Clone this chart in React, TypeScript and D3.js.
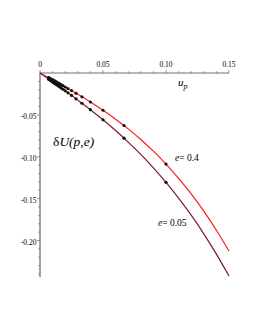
import * as d3 from "d3";
import React, { useEffect, useRef } from "react";

// curve samples (u_p, deltaU)
const uGrid = [0, 0.01, 0.02, 0.03, 0.04, 0.05, 0.06, 0.07, 0.08, 0.09, 0.1, 0.11, 0.12, 0.13, 0.14, 0.15];
const curveE04 = [0, -0.0083, -0.0167, -0.0254, -0.0346, -0.0445, -0.0551, -0.0667, -0.0794, -0.0933, -0.1087, -0.1257, -0.1444, -0.165, -0.1877, -0.2125];
const curveE005 = [0, -0.0106, -0.0213, -0.0324, -0.0438, -0.0559, -0.0687, -0.0825, -0.0972, -0.1132, -0.1305, -0.1493, -0.1698, -0.192, -0.2162, -0.2424];

// marked points (u_p = 1/p)
const dotU = [0.1, 0.0667, 0.05, 0.04, 0.0333, 0.0286, 0.025, 0.0222, 0.02, 0.0182, 0.0167, 0.0154, 0.0143, 0.0133, 0.0125, 0.0118, 0.0111, 0.0105, 0.01, 0.0091, 0.0083, 0.0077, 0.0071, 0.0067];
const dotE04 = [-0.1087, -0.0627, -0.0445, -0.0346, -0.0284, -0.0242, -0.021, -0.0186, -0.0167, -0.0151, -0.0139, -0.0128, -0.0118, -0.011, -0.0103, -0.0098, -0.0092, -0.0087, -0.0083, -0.0075, -0.0069, -0.0064, -0.0059, -0.0055];
const dotE005 = [-0.1305, -0.0778, -0.0559, -0.0438, -0.0361, -0.0308, -0.0268, -0.0237, -0.0213, -0.0194, -0.0178, -0.0164, -0.0152, -0.0141, -0.0133, -0.0125, -0.0118, -0.0111, -0.0106, -0.0096, -0.0088, -0.0081, -0.0075, -0.0071];

const xTicks = [0, 0.05, 0.1, 0.15];
const xTickLabels = ["0", "0.05", "0.10", "0.15"];
const yTicks = [-0.05, -0.1, -0.15, -0.2];
const yTickLabels = ["-0.05", "-0.10", "-0.15", "-0.20"];

const App: React.FC = () => {
  const svgRef = useRef<SVGSVGElement>(null);

  useEffect(() => {
    if (!svgRef.current) return;
    const svg = d3.select(svgRef.current);
    svg.selectAll("*").remove();

    const font = "'Liberation Serif', 'DejaVu Serif', serif";
    const x = d3.scaleLinear().domain([0, 0.15]).range([40, 229]);
    const y = d3.scaleLinear().domain([0, -0.2]).range([73, 240.5]);
    const yMin = -0.2436;
    const axisColor = "#707070";

    // axes
    svg.append("line")
      .attr("x1", x(0)).attr("x2", x(0.15))
      .attr("y1", y(0)).attr("y2", y(0))
      .attr("stroke", axisColor).attr("stroke-width", 1);
    svg.append("line")
      .attr("x1", x(0)).attr("x2", x(0))
      .attr("y1", y(0)).attr("y2", y(yMin))
      .attr("stroke", axisColor).attr("stroke-width", 1.3);

    // minor + major ticks
    const xMinor = d3.range(0, 0.1501, 0.01);
    svg.selectAll(".xt")
      .data(xMinor)
      .join("line")
      .attr("x1", (d) => x(d)).attr("x2", (d) => x(d))
      .attr("y1", y(0))
      .attr("y2", (d) => y(0) - (xTicks.some((t) => Math.abs(t - d) < 1e-6) ? 3 : 1.8))
      .attr("stroke", axisColor).attr("stroke-width", 0.7);
    const yMinor = d3.range(-0.01, yMin, -0.01);
    svg.selectAll(".yt")
      .data(yMinor)
      .join("line")
      .attr("y1", (d) => y(d)).attr("y2", (d) => y(d))
      .attr("x1", x(0))
      .attr("x2", (d) => x(0) - (yTicks.some((t) => Math.abs(t - d) < 1e-6) ? 3 : 1.8))
      .attr("stroke", axisColor).attr("stroke-width", 0.7);

    svg.selectAll(".xl")
      .data(xTicks)
      .join("text")
      .attr("x", (d) => x(d))
      .attr("y", y(0) - 6)
      .attr("text-anchor", "middle")
      .style("font-family", font)
      .style("font-size", "7.5px")
      .text((_, i) => xTickLabels[i]);
    svg.selectAll(".yl")
      .data(yTicks)
      .join("text")
      .attr("x", x(0) - 3.5)
      .attr("y", (d) => y(d) + 1.5)
      .attr("dy", "0.35em")
      .attr("text-anchor", "end")
      .style("font-family", font)
      .style("font-size", "7.5px")
      .text((_, i) => yTickLabels[i]);

    // curves
    const line = d3.line<number>()
      .x((_, i) => x(uGrid[i]))
      .y((d) => y(d))
      .curve(d3.curveMonotoneX);
    svg.append("path").attr("d", line(curveE04)).attr("fill", "none")
      .attr("stroke", "#ff1a1a").attr("stroke-width", 1.2);
    svg.append("path").attr("d", line(curveE005)).attr("fill", "none")
      .attr("stroke", "#7a1a2e").attr("stroke-width", 1.2);

    // dots
    [dotE04, dotE005].forEach((vals, k) => {
      svg.selectAll(`.dot${k}`)
        .data(vals)
        .join("circle")
        .attr("cx", (_, i) => x(dotU[i]))
        .attr("cy", (d) => y(d))
        .attr("r", 1.6)
        .attr("fill", "#111");
    });

    // labels
    const up = svg.append("text").attr("x", 178).attr("y", 86)
      .style("font-family", font).style("font-size", "11px").style("font-style", "italic");
    up.append("tspan").text("u");
    up.append("tspan").attr("dy", 3).style("font-size", "8px").text("p");

    const du = svg.append("text").attr("x", 53).attr("y", 146)
      .style("font-family", font).style("font-size", "13.5px");
    du.append("tspan").text("δ");
    du.append("tspan").style("font-style", "italic").text("U(p,e)");

    const e1 = svg.append("text").attr("x", 175).attr("y", 161)
      .style("font-family", font).style("font-size", "9.5px");
    e1.append("tspan").style("font-style", "italic").text("e");
    e1.append("tspan").text("= 0.4");
    const e2 = svg.append("text").attr("x", 158).attr("y", 226)
      .style("font-family", font).style("font-size", "9.5px");
    e2.append("tspan").style("font-style", "italic").text("e");
    e2.append("tspan").text("= 0.05");
  }, []);

  return (
    <svg
      ref={svgRef}
      width={255}
      height={330}
      style={{ position: "absolute", left: 0, top: 0, background: "#fff" }}
    />
  );
};

export default App;
